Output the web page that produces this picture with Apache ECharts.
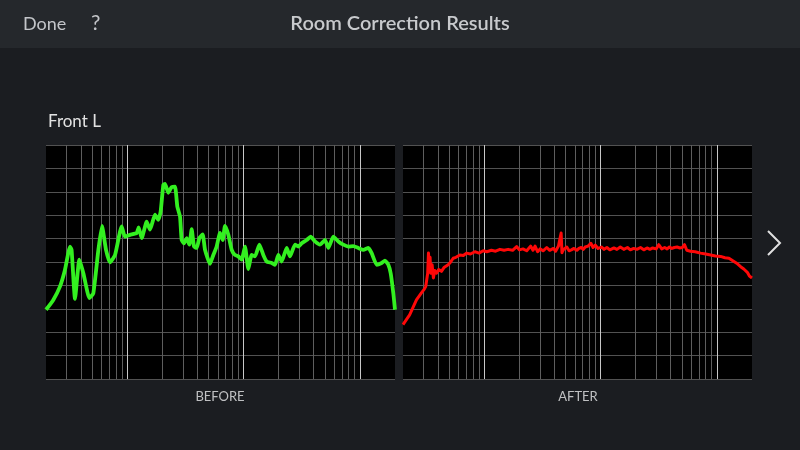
<!DOCTYPE html>
<html><head><meta charset="utf-8">
<script src="https://cdn.jsdelivr.net/npm/echarts@6/dist/echarts.min.js"></script>
<style>html,body{margin:0;padding:0;background:#1b1d21;}#c{width:800px;height:450px;}</style>
</head><body><div id="c"></div>
<script>
// Frequency (Hz) and level (dB)
const beforeFreq = [20,23.1,26.4,29.1,32.2,33.2,35.5,38.7,41.9,47.2,51.0,56.4,60.6,65.6,71.0,78.4,89.4,95.5,105.5,120.3,125.2,132.9,146.7,156.7,173.0,184.8,193.5,204,210.8,225.2,240.6,257,269.2,283.8,293.2,307.2,323.8,341.4,357.4,374.4,394.6,416,444.4,465.4,513.8,548.8,586.2,626.2,660.2,691.4,738.6,789,842.6,900.2,961.6,1027,1097,1172,1252,1364,1476,1577,1742,1860,1987,2122,2344,2503,2764,2952,3154,3482,3769,4106,4533,5004,5346,5903,6517,7195,7944,8768,9681,10688,11799,12602,13914,15360,16408,17527,18360,19352,20000];
const beforeDb = [54.8,56.9,59.8,63.3,68.3,67.6,57.1,65.5,62.6,57.3,58.3,67.6,72.7,67.6,64.9,66.5,72.6,70.4,70.8,71.2,72.4,70.1,73.6,71.9,75.1,74.0,75.8,81.5,81.7,79.8,81.0,81.1,76.8,74.7,69.7,69.0,70.1,68.7,72.0,68.3,68.0,70.1,70.9,67.6,64.6,66.5,68.3,71.2,69.7,72.7,70.8,67.6,66.5,66.2,65.5,68.3,63.5,66.5,66.2,68.7,66.5,65.1,64.8,64.4,66.5,65.1,68.0,66.2,68.7,68.3,69.0,69.7,70.4,69.4,68.7,69.7,68.0,70.4,69.4,68.7,68.3,68.4,68.0,67.6,68.0,66.9,64.4,64.8,65.3,64.4,62.6,58.3,54.8];
const afterFreq = [20,22.8,26.1,28.8,30.5,31.4,32.6,33.1,33.7,34.2,34.6,35.6,36.5,37.5,38.8,40.5,42.8,45,48.9,51,54,57,61.6,66,70.3,76,82.9,90,97.9,105,115,125,136.3,148,160,175,189.7,200,215,231.4,250,262,273,287,301.4,320,344,365,392.8,410,433.8,450,457.4,465,475.8,490,511.8,535,560,590,624.2,650,680,710,736.6,780,824,860,900,950,1020,1070,1132,1200,1300,1380,1475,1580,1700,1800,1922,2050,2200,2350,2504,2650,2800,3000,3158,3350,3550,3726,3900,4100,4300,4542,4800,5050,5256,5500,5920,6500,7218,8000,8808,9700,10740,11700,12668,13990,15000,15974,17000,18234,19000,20000];
const afterDb = [51.6,53.7,56.9,58.4,59.2,59.8,62.6,66.9,64.5,66.0,62.6,64.4,61.6,63.2,62.6,63.4,63.0,63.8,64.4,64.9,65.8,66.0,66.5,66.4,66.9,66.7,67.2,66.9,67.4,67.2,67.5,67.3,67.7,67.5,67.7,67.5,68.3,67.6,67.8,67.4,68.4,67.5,68.4,67.2,67.8,67.4,68.1,67.5,67.9,67.3,68.4,68.2,71.2,67.0,67.6,67.9,68.2,67.4,67.6,67.9,67.5,67.9,68.1,67.7,68.2,68.4,69.0,68.1,68.6,67.9,68.2,67.7,68.1,67.6,68.0,67.7,68.2,67.7,68.1,67.6,67.9,67.7,68.1,67.6,68.0,67.7,68.0,67.8,68.7,67.8,68.1,67.8,68.2,67.9,68.1,68.2,68.0,68.1,68.7,67.5,67.3,67.2,66.9,66.7,66.5,66.3,66.2,65.9,65.8,65.1,64.6,64.0,63.5,62.8,62.0,61.6];
const minorFreqs = [30,40,50,60,70,80,90,200,300,400,500,600,700,800,900,2000,3000,4000,5000,6000,7000,8000,9000];
const majorFreqs = [100,1000,10000];
const yMin = 40, yMax = 90, yStep = 5;
const panelLabels = ['BEFORE','AFTER'];

const pairs = (fs, vs) => fs.map((f, i) => [f, vs[i]]);
const gridLines = [
  ...minorFreqs.map(f => ({xAxis: f, lineStyle: {color: '#5e5e5e', width: 1, type: 'solid'}})),
  ...majorFreqs.map(f => ({xAxis: f, lineStyle: {color: '#c8c8c8', width: 1, type: 'solid'}}))
];
function xAx(i){ return {type:'log', logBase:10, min:20, max:20000, gridIndex:i,
  axisLine:{show:false}, axisTick:{show:false}, axisLabel:{show:false}, splitLine:{show:false}}; }
function yAx(i){ return {type:'value', min:yMin, max:yMax, interval:yStep, gridIndex:i,
  axisLine:{show:false}, axisTick:{show:false}, axisLabel:{show:false},
  splitLine:{show:true, lineStyle:{color:'#525252', width:1}}}; }
function mkSeries(i, data, color, w, smooth){
  return {type:'line', xAxisIndex:i, yAxisIndex:i, data:data, showSymbol:false, symbol:'none',
    smooth:smooth, z:3, lineStyle:{color:color, width:w, join:'round'}, silent:true, animation:false,
    markLine:{silent:true, symbol:'none', z:1, label:{show:false}, animation:false, data:gridLines}};
}
const chart = echarts.init(document.getElementById('c'));
chart.setOption({
  backgroundColor:'#1b1d21',
  animation:false,
  grid:[
    {left:46, top:145, width:349, height:234, show:true, backgroundColor:'#000', borderWidth:0},
    {left:403, top:145, width:349, height:234, show:true, backgroundColor:'#000', borderWidth:0}
  ],
  xAxis:[xAx(0), xAx(1)],
  yAxis:[yAx(0), yAx(1)],
  series:[
    mkSeries(0, pairs(beforeFreq, beforeDb), '#33f020', 3.8, 0.15),
    mkSeries(1, pairs(afterFreq, afterDb), '#ff0808', 3, false)
  ],
  graphic:[
    {type:'rect', z:-1, shape:{x:0,y:0,width:800,height:48}, style:{fill:'#25282c'}},
    {type:'text', x:23, y:24, style:{text:'Done', fill:'#c3c5c9', font:'18px Lato', textVerticalAlign:'middle'}},
    {type:'text', x:91, y:23, style:{text:'?', fill:'#c3c5c9', font:'21px Lato', textVerticalAlign:'middle'}},
    {type:'text', x:400, y:24, style:{text:'Room Correction Results', fill:'#c8cacd', font:'600 20px Lato', textAlign:'center', textVerticalAlign:'middle'}},
    {type:'text', x:48, y:122, style:{text:'Front L', fill:'#e2e2e2', font:'17px Lato', textVerticalAlign:'middle'}},
    {type:'text', x:220, y:397, style:{text:panelLabels[0], fill:'#bfc0c2', font:'13px Lato', textAlign:'center', textVerticalAlign:'middle'}},
    {type:'text', x:578, y:397, style:{text:panelLabels[1], fill:'#bfc0c2', font:'13px Lato', textAlign:'center', textVerticalAlign:'middle'}},
    {type:'polyline', shape:{points:[[768,231],[780,243],[768,255]]}, style:{stroke:'#e0e0e0', lineWidth:2, fill:null}}
  ]
});
</script></body></html>
